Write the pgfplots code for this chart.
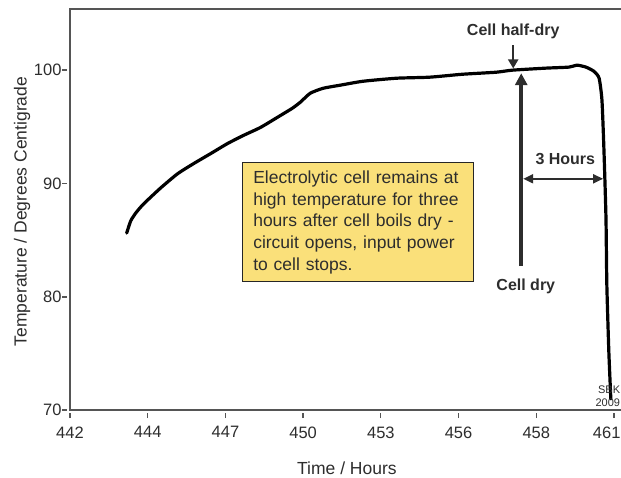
\documentclass[border=0pt]{standalone}
\usepackage{pgfplots}
\pgfplotsset{compat=1.18}
\usetikzlibrary{arrows.meta}
\usepackage{fontspec}
\setmainfont{Liberation Sans}
\setsansfont{Liberation Sans}
\definecolor{boxfill}{RGB}{250,224,122}
\definecolor{axgray}{RGB}{85,85,85}
\definecolor{txtgray}{RGB}{45,45,45}

\begin{document}
\begin{tikzpicture}[x=1pt,y=1pt]
\begin{axis}[
  at={(70pt,67pt)}, anchor=south west,
  scale only axis, width=558.3pt, height=401pt,
  xmin=442, xmax=461.5, ymin=70, ymax=105.4,
  axis line style={axgray, line width=1.3pt},
  xtick={442,444.714,447.429,450.143,452.857,455.571,458.286,461},
  xticklabels={442,444,447,450,453,456,458,\makebox[42pt][l]{461}},
  ytick={70,80,90,100},
  yticklabels={70,80,90,100},
  xtick pos=bottom, ytick pos=left,
  tick align=outside, major tick length=5pt,
  xtick style={axgray, line width=1.3pt, yshift=-3pt},
  ytick style={axgray, line width=1.6pt, xshift=-3pt},
  tick label style={font=\fontsize{16.5}{16.5}\selectfont, text=txtgray},
  xticklabel style={yshift=-8pt},
  xlabel={Time / Hours},
  ylabel={Temperature / Degrees Centigrade},
  label style={font=\fontsize{17.5}{20}\selectfont, text=txtgray},
  xlabel style={at={(axis description cs:0.496,-0.145)}, anchor=center},
  ylabel style={at={(axis description cs:-0.0857,0.495)}, anchor=center},
  clip=false,
]
\addplot[black, line width=3.2pt, line join=round, line cap=round, smooth, tension=0.35] coordinates {
(443.98,85.62) (444.12,86.69) (444.30,87.40) (444.57,88.19) (445.17,89.61)
(445.76,90.86) (446.31,91.74) (446.91,92.63) (447.50,93.52) (448.05,94.23)
(448.65,94.94) (449.24,95.83) (449.76,96.63) (450.04,97.16) (450.39,97.96)
(450.84,98.40) (451.43,98.67) (452.23,99.02) (453.41,99.29) (454.56,99.38)
(455.71,99.64) (456.89,99.82) (457.45,100.00) (458.63,100.18) (459.43,100.27)
(459.71,100.44) (460.02,100.27) (460.30,99.90) (460.48,99.29) (460.58,97.34)
(460.65,92.90) (460.72,86.95) (460.75,81.09) (460.82,75.15) (460.89,70.98)
};
% text box
\node[draw=black!85, fill=boxfill, line width=1pt, anchor=north west,
      text width=209pt, inner xsep=11pt, inner ysep=0pt, minimum height=119pt,
      align=left, text=txtgray, font=\fontsize{17.5}{21.7}\selectfont]
  at (axis cs:448.0,91.86)
  {Electrolytic cell remains at\\ high temperature for three\\ hours after cell boils dry -\\ circuit opens, input power\\ to cell stops.};
% annotations
\node[font=\bfseries\fontsize{16}{18}\selectfont, text=txtgray] at (axis cs:457.48,103.46) {Cell half-dry};
\draw[-{Triangle[width=10pt,length=9pt]}, line width=2pt, txtgray] (axis cs:457.48,102.2) -- (axis cs:457.48,100.15);
\draw[-{Triangle[width=12pt,length=12pt]}, line width=3.5pt, txtgray] (axis cs:457.76,82.69) -- (axis cs:457.76,99.73);
\node[font=\bfseries\fontsize{16}{18}\selectfont, text=txtgray] at (axis cs:457.92,80.92) {Cell dry};
\node[font=\bfseries\fontsize{16}{18}\selectfont, text=txtgray] at (axis cs:459.3,92.19) {3 Hours};
\draw[{Triangle[width=9pt,length=10pt]}-{Triangle[width=9pt,length=10pt]}, line width=2pt, txtgray] (axis cs:457.83,90.41) -- (axis cs:460.62,90.41);
\node[anchor=east, inner sep=0pt, font=\fontsize{11}{11}\selectfont, text=txtgray] at (axis cs:461.22,71.75) {SBK};
\node[anchor=east, inner sep=0pt, font=\fontsize{11}{11}\selectfont, text=txtgray] at (axis cs:461.22,70.6) {2009};
\end{axis}
\pgfresetboundingbox
\useasboundingbox (0,0) rectangle (621pt,477pt);
\end{tikzpicture}
\end{document}
